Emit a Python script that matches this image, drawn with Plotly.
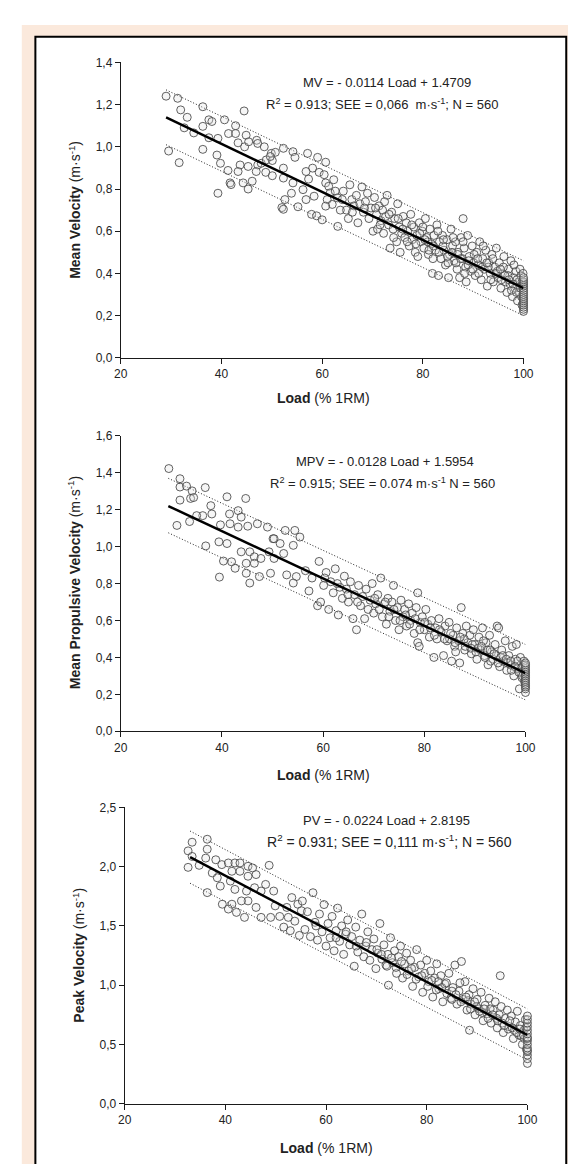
"""
Three load-velocity scatter panels (MV, MPV, PV) with fit and prediction band.
"""

import plotly.graph_objects as go

W, H = 576, 1164

# ---- Mean Velocity panel ----
mv_points = [
    (29.0, 1.24), (31.3, 1.23), (36.3, 1.19), (44.5, 1.17), (31.9, 1.175), (33.2, 1.14), (32.6, 1.09),
    (34.5, 1.066), (36.3, 1.097), (37.5, 1.128), (38.1, 1.12), (40.6, 1.128), (42.8, 1.10), (41.4, 1.063),
    (42.8, 1.063), (39.3, 1.04), (37.5, 1.043), (44.9, 1.055), (43.3, 1.019), (44.6, 1.0), (47.0, 1.031),
    (47.2, 1.016), (48.5, 1.0), (45.4, 1.024), (36.3, 0.988), (29.5, 0.98), (31.6, 0.925), (39.1, 0.961),
    (39.8, 0.922), (41.3, 0.888), (41.7, 0.829), (41.9, 0.821), (44.3, 0.829), (45.3, 0.80), (46.1, 0.837),
    (39.3, 0.78), (43.7, 0.914), (43.3, 0.883), (45.3, 0.907), (47.2, 0.914), (46.9, 0.883), (48.8, 0.879),
    (50.1, 0.863), (47.9, 0.922), (48.9, 0.938), (49.9, 0.969), (50.7, 0.974), (52.3, 0.993), (54.2, 0.977),
    (54.6, 0.95), (57.1, 0.969), (59.1, 0.95), (60.7, 0.927), (50.1, 0.935), (49.7, 0.954), (52.3, 0.899),
    (52.3, 0.852), (54.2, 0.829), (53.9, 0.78), (52.6, 0.75), (52.0, 0.712), (52.3, 0.704), (55.2, 0.716),
    (56.8, 0.75), (58.4, 0.766), (57.9, 0.68), (58.9, 0.673), (60.0, 0.654), (63.1, 0.623), (58.1, 0.899),
    (57.3, 0.847), (56.2, 0.797), (56.8, 0.883), (59.4, 0.879), (60.4, 0.868), (60.7, 0.829), (61.3, 0.813),
    (61.6, 0.782), (61.0, 0.75), (62.3, 0.844), (62.6, 0.79), (63.0, 0.758), (62.0, 0.727), (60.7, 0.719),
    (64.2, 0.79), (64.8, 0.70), (65.5, 0.82), (65.2, 0.66), (65.9, 0.75), (66.3, 0.72), (66.8, 0.77),
    (67.1, 0.64), (67.5, 0.73), (67.9, 0.81), (68.2, 0.69), (68.6, 0.74), (69.0, 0.78), (69.3, 0.66),
    (69.7, 0.71), (70.1, 0.60), (70.4, 0.76), (70.8, 0.68), (71.0, 0.61), (71.3, 0.72), (71.7, 0.65),
    (72.0, 0.70), (72.2, 0.59), (72.6, 0.67), (72.9, 0.77), (73.2, 0.63), (73.5, 0.52), (73.8, 0.69),
    (74.1, 0.61), (74.4, 0.66), (74.8, 0.55), (75.0, 0.73), (75.3, 0.62), (75.5, 0.50), (75.8, 0.59),
    (76.1, 0.67), (76.4, 0.57), (76.7, 0.64), (77.0, 0.60), (77.3, 0.53), (77.6, 0.68), (77.9, 0.56),
    (78.2, 0.62), (78.5, 0.50), (78.8, 0.58), (79.0, 0.48), (79.3, 0.64), (79.6, 0.55), (79.9, 0.60),
    (80.2, 0.52), (80.5, 0.66), (80.8, 0.57), (81.1, 0.49), (81.4, 0.61), (81.7, 0.54), (81.9, 0.40),
    (82.2, 0.58), (82.5, 0.51), (82.8, 0.63), (83.1, 0.39), (83.3, 0.55), (83.6, 0.47), (83.9, 0.58),
    (84.2, 0.51), (84.5, 0.44), (84.8, 0.56), (85.1, 0.38), (85.3, 0.49), (85.6, 0.61), (85.9, 0.53),
    (86.2, 0.46), (86.5, 0.55), (86.8, 0.42), (87.0, 0.50), (87.3, 0.38), (87.6, 0.57), (87.9, 0.47),
    (88.2, 0.52), (88.5, 0.43), (88.6, 0.36), (88.9, 0.58), (89.2, 0.48), (89.5, 0.41), (89.8, 0.53),
    (90.1, 0.45), (90.4, 0.39), (90.7, 0.50), (91.0, 0.44), (91.3, 0.55), (91.6, 0.37), (91.9, 0.47),
    (92.2, 0.42), (92.5, 0.51), (92.8, 0.34), (93.1, 0.45), (93.4, 0.40), (93.7, 0.49), (94.0, 0.36),
    (94.3, 0.43), (94.6, 0.52), (94.9, 0.38), (95.2, 0.45), (95.5, 0.33), (95.8, 0.40), (96.1, 0.48),
    (96.4, 0.36), (96.7, 0.31), (97.0, 0.42), (97.3, 0.35), (97.5, 0.46), (97.8, 0.29), (98.0, 0.38),
    (98.3, 0.33), (98.5, 0.41), (98.8, 0.27), (99.0, 0.36), (99.2, 0.31), (99.5, 0.39), (99.7, 0.25),
    (99.8, 0.34), (90.2, 0.49), (91.1, 0.40), (92.0, 0.53), (93.0, 0.43), (93.9, 0.47), (94.8, 0.41),
    (95.6, 0.37), (96.0, 0.43), (96.9, 0.39), (97.6, 0.32), (98.1, 0.44), (98.7, 0.37), (99.3, 0.42),
    (99.6, 0.29), (99.9, 0.40), (99.9, 0.28), (80.0, 0.62), (81.0, 0.55), (82.0, 0.47), (83.0, 0.60),
    (84.0, 0.53), (85.0, 0.45), (86.0, 0.57), (86.9, 0.49), (88.0, 0.55), (89.0, 0.44), (88.0, 0.66),
    (70.6, 0.71), (71.5, 0.63), (72.4, 0.74), (73.3, 0.68), (74.2, 0.57), (75.1, 0.66), (76.0, 0.61),
    (76.9, 0.55), (77.8, 0.63), (78.6, 0.54), (79.4, 0.59), (80.4, 0.56), (81.2, 0.51), (82.1, 0.53),
    (83.2, 0.50), (84.1, 0.56), (84.9, 0.48), (85.8, 0.50), (86.6, 0.45), (87.5, 0.47), (88.3, 0.40),
    (89.1, 0.46), (89.9, 0.42), (90.9, 0.47), (91.8, 0.43), (92.7, 0.45), (93.5, 0.37), (94.5, 0.40),
    (95.4, 0.42), (96.3, 0.39), (97.1, 0.37), (97.9, 0.35), (98.6, 0.31), (99.4, 0.33), (99.7, 0.36),
    (68.4, 0.71), (66.0, 0.69), (63.6, 0.70), (64.0, 0.75),
    (100, 0.22), (100, 0.23), (100, 0.24), (100, 0.25), (100, 0.26), (100, 0.27), (100, 0.28),
    (100, 0.29), (100, 0.30), (100, 0.31), (100, 0.32), (100, 0.33), (100, 0.34), (100, 0.35),
    (100, 0.36), (100, 0.37), (100, 0.38),
]
mv_fit_load = [29, 100]
mv_fit_vel = [1.14, 0.33]
mv_band_hi = [1.27, 0.46]
mv_band_lo = [1.01, 0.20]

# ---- Mean Propulsive Velocity panel ----
mpv_points = [
    (29.5, 1.423), (31.7, 1.368), (31.7, 1.323), (33.0, 1.328), (34.1, 1.302), (36.7, 1.32), (31.7, 1.252),
    (33.8, 1.261), (34.4, 1.266), (41.0, 1.27), (44.7, 1.261), (37.8, 1.222), (38.0, 1.177), (36.2, 1.168),
    (35.0, 1.168), (33.6, 1.136), (31.1, 1.115), (41.5, 1.177), (43.2, 1.195), (43.8, 1.16), (39.7, 1.118),
    (41.6, 1.124), (43.2, 1.106), (45.1, 1.111), (47.0, 1.124), (49.0, 1.106), (50.1, 1.043), (52.5, 1.088),
    (54.4, 1.088), (36.8, 1.004), (39.4, 1.026), (41.0, 1.017), (43.8, 0.972), (45.5, 0.972), (46.4, 0.945),
    (47.7, 0.936), (49.3, 0.972), (50.3, 0.936), (52.2, 0.963), (51.5, 1.017), (50.3, 1.043), (54.1, 1.007),
    (55.4, 1.052), (40.3, 0.922), (41.9, 0.918), (42.6, 0.883), (44.8, 0.91), (46.4, 0.91), (39.5, 0.835),
    (44.8, 0.856), (45.5, 0.803), (47.4, 0.838), (49.6, 0.856), (52.8, 0.847), (54.7, 0.838), (54.1, 0.803),
    (56.5, 0.87), (57.2, 0.76), (57.8, 0.83), (58.9, 0.68), (59.5, 0.70), (59.2, 0.92), (60.1, 0.79),
    (60.6, 0.86), (61.1, 0.66), (61.5, 0.81), (62.0, 0.75), (62.4, 0.88), (63.0, 0.63), (63.3, 0.78),
    (63.8, 0.72), (64.2, 0.84), (64.6, 0.77), (65.0, 0.70), (65.4, 0.81), (65.9, 0.61), (66.2, 0.74),
    (66.6, 0.55), (67.0, 0.79), (67.4, 0.68), (67.8, 0.73), (68.2, 0.61), (68.5, 0.77), (68.9, 0.66),
    (69.3, 0.71), (69.7, 0.80), (70.0, 0.64), (70.4, 0.69), (70.8, 0.74), (71.4, 0.83), (71.7, 0.62),
    (72.1, 0.69), (72.5, 0.58), (72.8, 0.72), (73.2, 0.65), (73.6, 0.70), (73.9, 0.79), (74.3, 0.60),
    (74.7, 0.67), (75.0, 0.55), (75.4, 0.71), (75.8, 0.62), (76.1, 0.66), (76.5, 0.57), (76.9, 0.69),
    (77.3, 0.60), (77.6, 0.64), (78.0, 0.53), (78.4, 0.67), (78.7, 0.75), (78.7, 0.48), (79.0, 0.46),
    (79.2, 0.59), (79.6, 0.62), (80.0, 0.55), (80.3, 0.66), (80.7, 0.58), (81.0, 0.51), (81.4, 0.60),
    (81.9, 0.40), (82.2, 0.56), (82.5, 0.50), (82.9, 0.61), (83.3, 0.54), (83.8, 0.41), (84.1, 0.57),
    (84.5, 0.49), (84.9, 0.59), (85.4, 0.38), (85.7, 0.52), (86.0, 0.46), (86.4, 0.56), (86.8, 0.49),
    (87.0, 0.37), (87.3, 0.67), (87.6, 0.53), (88.0, 0.44), (88.3, 0.57), (88.6, 0.48), (89.0, 0.52),
    (89.3, 0.42), (89.7, 0.55), (90.0, 0.47), (90.4, 0.39), (90.8, 0.51), (91.1, 0.44), (91.5, 0.56),
    (91.9, 0.41), (92.2, 0.48), (92.6, 0.36), (92.9, 0.52), (93.3, 0.43), (93.6, 0.39), (94.0, 0.47),
    (94.4, 0.57), (94.7, 0.56), (94.9, 0.35), (95.3, 0.44), (95.6, 0.38), (96.0, 0.49), (96.3, 0.33),
    (96.7, 0.41), (97.0, 0.36), (97.4, 0.46), (97.7, 0.30), (98.0, 0.39), (98.2, 0.47), (98.5, 0.34),
    (98.8, 0.23), (99.0, 0.40), (99.3, 0.29), (99.5, 0.36), (99.8, 0.27), (99.9, 0.33), (85.0, 0.50),
    (86.2, 0.43), (87.9, 0.50), (89.5, 0.47), (90.6, 0.45), (91.7, 0.49), (92.4, 0.44), (93.1, 0.38),
    (94.2, 0.41), (95.1, 0.40), (96.5, 0.37), (97.2, 0.33), (98.4, 0.38), (99.1, 0.34), (99.6, 0.31),
    (70.2, 0.72), (71.1, 0.66), (72.3, 0.70), (73.0, 0.62), (74.0, 0.66), (75.2, 0.60), (76.3, 0.63),
    (77.1, 0.58), (78.2, 0.61), (79.1, 0.55), (80.1, 0.59), (81.2, 0.56), (82.0, 0.52), (83.0, 0.55),
    (84.0, 0.50), (85.2, 0.53), (86.1, 0.48), (87.1, 0.51), (88.1, 0.46), (89.2, 0.45), (90.2, 0.43),
    (91.3, 0.46), (92.0, 0.40), (93.0, 0.44), (93.8, 0.42), (94.6, 0.37), (95.5, 0.41), (96.2, 0.39),
    (97.1, 0.38), (97.9, 0.35), (98.7, 0.32), (99.4, 0.30), (99.7, 0.38), (66.8, 0.70), (64.9, 0.74),
    (62.8, 0.80), (60.3, 0.83),
    (100, 0.21), (100, 0.23), (100, 0.24), (100, 0.25), (100, 0.26), (100, 0.27), (100, 0.28),
    (100, 0.29), (100, 0.30), (100, 0.31), (100, 0.32), (100, 0.33), (100, 0.34), (100, 0.35),
    (100, 0.36), (100, 0.37),
]
mpv_fit_load = [29.4, 100]
mpv_fit_vel = [1.22, 0.315]
mpv_band_hi = [1.37, 0.47]
mpv_band_lo = [1.075, 0.17]

# ---- Peak Velocity panel ----
pv_points = [
    (33.4, 2.206), (36.4, 2.231), (32.6, 2.133), (33.4, 2.086), (32.6, 1.994), (36.4, 2.147), (36.1, 2.072),
    (34.8, 2.011), (38.1, 2.058), (39.3, 2.017), (37.4, 1.947), (38.4, 1.906), (40.6, 2.031), (41.9, 2.031),
    (42.9, 2.031), (44.5, 2.003), (45.4, 1.989), (48.7, 2.011), (46.1, 1.933), (41.3, 1.961), (42.9, 1.961),
    (44.5, 1.919), (41.0, 1.878), (39.0, 1.836), (41.9, 1.808), (44.2, 1.794), (45.8, 1.822), (47.1, 1.794),
    (44.5, 1.711), (46.1, 1.656), (43.2, 1.711), (41.3, 1.683), (39.4, 1.683), (40.6, 1.642), (42.2, 1.614),
    (43.8, 1.572), (47.1, 1.572), (49.0, 1.572), (49.9, 1.669), (49.6, 1.794), (48.0, 1.85), (52.2, 1.656),
    (52.5, 1.572), (53.2, 1.739), (54.4, 1.683), (55.1, 1.628), (36.4, 1.781), (50.8, 1.58), (51.6, 1.49),
    (53.8, 1.54), (54.7, 1.42), (55.3, 1.71), (52.9, 1.46),
    (55.8, 1.47), (56.3, 1.62), (56.9, 1.41), (57.4, 1.78), (57.8, 1.53), (58.3, 1.38), (58.7, 1.60),
    (59.2, 1.45), (59.6, 1.68), (60.0, 1.33), (60.4, 1.52), (60.8, 1.40), (61.2, 1.58), (61.6, 1.29),
    (62.0, 1.46), (62.3, 1.65), (62.7, 1.37), (63.1, 1.50), (63.5, 1.26), (63.9, 1.43), (64.3, 1.55),
    (64.7, 1.34), (65.1, 1.41), (65.6, 1.16), (65.9, 1.49), (66.3, 1.28), (66.7, 1.38), (67.1, 1.60),
    (67.5, 1.24), (67.9, 1.33), (68.3, 1.45), (68.7, 1.21), (69.1, 1.30), (69.5, 1.39), (69.9, 1.14),
    (70.3, 1.27), (70.7, 1.52), (71.1, 1.22), (71.5, 1.34), (71.9, 1.17), (72.3, 1.26), (72.4, 1.00),
    (72.8, 1.40), (73.2, 1.19), (73.6, 1.29), (74.0, 1.10), (74.4, 1.24), (74.8, 1.33), (75.2, 1.06),
    (75.6, 1.18), (76.0, 1.27), (76.4, 1.12), (76.8, 1.21), (77.2, 0.99), (77.6, 1.15), (78.0, 1.30),
    (78.4, 1.07), (78.8, 1.17), (79.2, 0.94), (79.6, 1.10), (80.0, 1.21), (80.4, 1.03), (80.8, 1.12),
    (81.2, 0.90), (81.6, 1.06), (82.0, 1.18), (82.4, 0.97), (82.8, 1.08), (83.2, 0.86), (83.6, 1.01),
    (84.0, 0.93), (84.4, 1.10), (84.8, 0.89), (85.2, 0.98), (85.6, 1.17), (86.0, 0.84), (86.4, 0.95),
    (86.9, 1.20), (87.2, 0.88), (87.6, 1.03), (88.0, 0.79), (88.5, 0.62), (88.4, 0.92), (88.8, 0.84),
    (89.2, 0.97), (89.6, 0.75), (90.0, 0.88), (90.4, 0.80), (90.8, 0.94), (91.2, 0.70), (91.6, 0.83),
    (92.0, 0.76), (92.4, 0.89), (92.8, 0.68), (93.2, 0.79), (93.6, 0.86), (94.0, 0.64), (94.4, 0.75),
    (94.6, 1.08), (94.8, 0.82), (95.2, 0.60), (95.6, 0.72), (96.0, 0.79), (96.4, 0.65), (96.8, 0.74),
    (97.2, 0.55), (97.6, 0.69), (98.0, 0.78), (98.3, 0.58), (98.6, 0.66), (99.0, 0.50), (99.3, 0.62),
    (99.6, 0.71), (99.8, 0.46), (82.3, 1.03), (85.0, 0.95), (86.6, 1.02), (88.2, 0.87), (89.9, 0.82),
    (91.0, 0.77), (92.6, 0.80), (93.9, 0.72), (95.0, 0.68), (96.2, 0.63), (97.4, 0.62), (98.8, 0.57),
    (99.4, 0.55), (70.1, 1.30), (71.0, 1.26), (72.1, 1.16), (73.0, 1.23), (73.9, 1.15), (75.0, 1.20),
    (76.1, 1.09), (77.0, 1.14), (77.9, 1.05), (79.0, 1.08), (80.2, 0.99), (81.0, 1.04), (81.9, 0.96),
    (83.0, 0.98), (83.9, 1.02), (85.0, 0.88), (85.8, 0.92), (86.8, 0.86), (87.8, 0.90), (88.7, 0.80),
    (89.5, 0.86), (90.5, 0.78), (91.4, 0.80), (92.2, 0.72), (93.1, 0.75), (94.1, 0.70), (95.4, 0.66),
    (96.5, 0.70), (97.0, 0.64), (97.9, 0.60), (98.5, 0.63), (99.2, 0.58), (99.7, 0.64), (68.0, 1.36),
    (66.0, 1.33), (64.0, 1.45), (62.0, 1.40), (58.0, 1.50),
    (100, 0.34), (100, 0.38), (100, 0.41), (100, 0.44), (100, 0.45), (100, 0.47),
    (100, 0.50), (100, 0.53), (100, 0.55), (100, 0.56), (100, 0.59), (100, 0.62), (100, 0.65),
    (100, 0.68), (100, 0.71), (100, 0.74),
]
pv_fit_load = [33, 100]
pv_fit_vel = [2.08, 0.58]
pv_band_hi = [2.30, 0.80]
pv_band_lo = [1.86, 0.37]

FONT = "Liberation Sans, Arial, sans-serif"
INK = "#1a1a1a"


def px(x, y):
    """pixel position -> paper coordinates (margins are 0)"""
    return x / W, 1 - y / H


panels = [
    dict(points=mv_points, fit_x=mv_fit_load, fit_y=mv_fit_vel, hi=mv_band_hi, lo=mv_band_lo,
         xpx=(109, 524), ypx=(48, 347), yrange=[0, 1.4], dtick=0.2),
    dict(points=mpv_points, fit_x=mpv_fit_load, fit_y=mpv_fit_vel, hi=mpv_band_hi, lo=mpv_band_lo,
         xpx=(109, 526), ypx=(426, 725), yrange=[0, 1.6], dtick=0.2),
    dict(points=pv_points, fit_x=pv_fit_load, fit_y=pv_fit_vel, hi=pv_band_hi, lo=pv_band_lo,
         xpx=(113, 528), ypx=(802, 1102), yrange=[0, 2.5], dtick=0.5),
]

fig = go.Figure()

for i, p in enumerate(panels, start=1):
    sfx = "" if i == 1 else str(i)
    xa, ya = "x" + sfx, "y" + sfx
    loads = [pt[0] for pt in p["points"]]
    vels = [pt[1] for pt in p["points"]]

    # bandas de prediccion
    for band in (p["hi"], p["lo"]):
        fig.add_trace(go.Scatter(x=p["fit_x"], y=band, mode="lines", xaxis=xa, yaxis=ya,
                                 line=dict(color="#222", width=1, dash="1px,2px"), hoverinfo="skip"))
    fig.add_trace(go.Scatter(
        x=loads, y=vels, mode="markers", xaxis=xa, yaxis=ya, cliponaxis=False,
        marker=dict(symbol="circle", size=8, color="rgba(225,225,225,0.3)",
                    line=dict(color="rgba(70,70,70,0.85)", width=1)),
    ))
    fig.add_trace(go.Scatter(x=p["fit_x"], y=p["fit_y"], mode="lines", xaxis=xa, yaxis=ya,
                             cliponaxis=False, line=dict(color="black", width=2.5)))

    x0, x1 = p["xpx"]
    y0, y1 = p["ypx"]
    axis_common = dict(showline=True, linecolor=INK, linewidth=1, ticks="outside", ticklen=5,
                       tickcolor=INK, showgrid=False, zeroline=False,
                       tickfont=dict(family=FONT, size=12, color="#222"))
    fig.update_layout(**{
        "xaxis" + sfx: dict(axis_common, domain=[x0 / W, x1 / W], range=[20, 100], dtick=20,
                            anchor=ya),
        "yaxis" + sfx: dict(axis_common, domain=[1 - y1 / H, 1 - y0 / H], range=p["yrange"],
                            dtick=p["dtick"], tickformat=".1f", anchor=xa),
    })

# textos
annotations = []


def note(text, x, y, size=13, angle=0):
    ax, ay = px(x, y)
    annotations.append(dict(text=text, x=ax, y=ay, xref="paper", yref="paper", showarrow=False,
                            textangle=angle, xanchor="center", yanchor="middle",
                            font=dict(family=FONT, size=size, color="#222")))


note("MV = - 0.0114 Load + 1.4709", 383, 68)
note("R<sup>2</sup> = 0.913; SEE = 0,066  m·s<sup>-1</sup>; N = 560", 378, 90)
note("MPV = - 0.0128 Load + 1.5954", 381, 452)
note("R<sup>2</sup> = 0.915; SEE = 0.074 m·s<sup>-1</sup> N = 560", 379, 474)
note("PV = - 0.0224 Load + 2.8195", 383, 815)
note("R<sup>2</sup> = 0.931; SEE = 0,111 m·s<sup>-1</sup>; N = 560", 386, 836, size=14)

note("<b>Load</b> (% 1RM)", 318, 388, size=14)
note("<b>Load</b> (% 1RM)", 318, 769, size=14)
note("<b>Load</b> (% 1RM)", 321, 1147, size=14)
note("<b>Mean Velocity</b> (m·s<sup>-1</sup>)", 61, 197, size=14, angle=-90)
note("<b>Mean Propulsive Velocity</b> (m·s<sup>-1</sup>)", 61, 575, size=14, angle=-90)
note("<b>Peak Velocity</b> (m·s<sup>-1</sup>)", 65, 952, size=14, angle=-90)

# fondo: marco beige y panel blanco con borde negro
bx0, by0 = px(7, 10)
bx1, by1 = px(576, 1164)
wx0, wy0 = px(21, 22)
wx1, wy1 = px(568, 1170)
shapes = [
    dict(type="rect", xref="paper", yref="paper", x0=bx0, y0=by1, x1=bx1, y1=by0,
         fillcolor="#fbe9dc", line=dict(width=0), layer="below"),
    dict(type="rect", xref="paper", yref="paper", x0=wx0, y0=wy1, x1=wx1, y1=wy0,
         fillcolor="white", line=dict(color="black", width=2), layer="below"),
]

fig.update_layout(
    width=W, height=H,
    margin=dict(l=0, r=0, t=0, b=0),
    paper_bgcolor="white",
    plot_bgcolor="rgba(0,0,0,0)",
    showlegend=False,
    separators=",.",
    annotations=annotations,
    shapes=shapes,
    font=dict(family=FONT, color="#222"),
)

fig.write_html("out.html")
